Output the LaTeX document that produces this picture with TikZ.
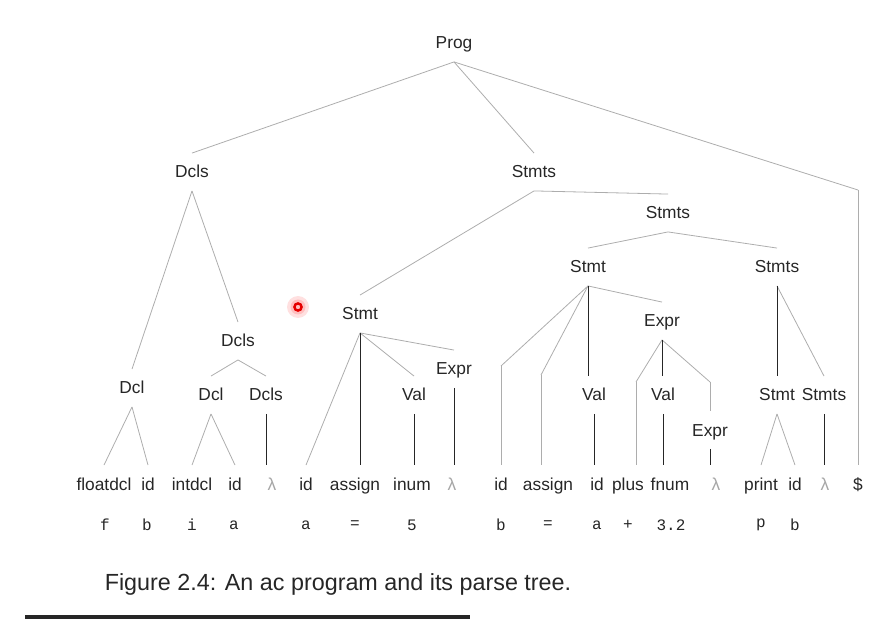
\documentclass[tikz,border=0pt]{standalone}
\usepackage{fontspec}
\setmainfont{Liberation Sans}
\setmonofont{Liberation Mono}
\usetikzlibrary{calc}

\tikzset{
  sym/.style={inner xsep=1pt, inner ysep=8pt, text height=10.5pt, text depth=1.5pt,
    text=black!85, font=\fontsize{13}{15}\selectfont},
  lam/.style={sym, text=black!35},
  val/.style={inner sep=1pt, text=black!85, font=\ttfamily\fontsize{12}{14}\selectfont},
  br/.style={draw=black!32, line width=0.6pt},
  vr/.style={draw=black!85, line width=0.6pt}
}

\begin{document}
\begin{tikzpicture}[x=0.75pt,y=0.75pt,yscale=-1,xscale=1]
\useasboundingbox (0,0) rectangle (895,630);

% Text Node: inner symbols
\node[sym] (prog) at (454,43) {Prog};
\node[sym] (dcls) at (192,172) {Dcls};
\node[sym] (stmts) at (534,172) {Stmts};
\node[sym] (stmtsb) at (668,213) {Stmts};
\node[sym] (stmtb) at (588,267) {Stmt};
\node[sym] (stmtsc) at (777,267) {Stmts};
\node[sym] (stmta) at (360,314) {Stmt};
\node[sym] (dclsb) at (238,341) {Dcls};
\node[sym] (expra) at (454,369) {Expr};
\node[sym] (exprb) at (662,321) {Expr};
\node[sym] (dcla) at (132,388) {Dcl};
\node[sym] (dclb) at (211,395) {Dcl};
\node[sym] (dclsc) at (266,395) {Dcls};
\node[sym] (vala) at (414,395) {Val};
\node[sym] (valb) at (594,395) {Val};
\node[sym] (valc) at (663,395) {Val};
\node[sym] (exprc) at (710,430) {Expr};
\node[sym] (stmtc) at (777,395) {Stmt};
\node[sym] (stmtsd) at (824,395) {Stmts};

% Text Node: leaves
\node[sym] (floatdcl) at (104,484) {floatdcl};
\node[sym] (ida) at (148,484) {id};
\node[sym] (intdcl) at (192,484) {intdcl};
\node[sym] (idb) at (235,484) {id};
\node[lam] (lama) at (272,484) {λ};
\node[sym] (idc) at (306,484) {id};
\node[sym] (asgna) at (355,484) {assign};
\node[sym] (inum) at (412,484) {inum};
\node[lam] (lamb) at (452,484) {λ};
\node[sym] (idd) at (501,484) {id};
\node[sym] (asgnb) at (548,484) {assign};
\node[sym] (ide) at (597,484) {id};
\node[sym] (plus) at (628,484) {plus};
\node[sym] (fnum) at (670,484) {fnum};
\node[lam] (lamc) at (716,484) {λ};
\node[sym] (print) at (761,484) {print};
\node[sym] (idf) at (795,484) {id};
\node[lam] (lamd) at (825,484) {λ};
\node[sym] (eof) at (858,484) {\$};

% Text Node: source text
\node[val] (vf) at (105,525) {f};
\node[val] (vb) at (147,525) {b};
\node[val] (vi) at (192,525) {i};
\node[val] (va) at (234,525) {a};
\node[val] (vaa) at (306,525) {a};
\node[val] (veq) at (355,525) {=};
\node[val] (vfive) at (412,525) {5};
\node[val] (vbb) at (501,525) {b};
\node[val] (veqb) at (548,525) {=};
\node[val] (vab) at (597,525) {a};
\node[val] (vplus) at (628,525) {+};
\node[val] (vnum) at (671,525) {3.2};
\node[val] (vp) at (761,525) {p};
\node[val] (vbc) at (795,525) {b};

%Straight Lines: slanted branches
\draw[br] (prog.south) -- (dcls.north);
\draw[br] (prog.south) -- (stmts.north);
\draw[br] (prog.south) -- (eof.north |- 0,190);
\draw[br] (dcls.south) -- (dcla.north);
\draw[br] (dcls.south) -- (dclsb.north);
\draw[br] (dclsb.south) -- (dclb.north);
\draw[br] (dclsb.south) -- (dclsc.north);
\draw[br] (dcla.south) -- (floatdcl.north);
\draw[br] (dcla.south) -- (ida.north);
\draw[br] (dclb.south) -- (intdcl.north);
\draw[br] (dclb.south) -- (idb.north);
\draw[br] (stmts.south) -- (stmta.north);
\draw[br] (stmts.south) -- (stmtsb.north);
\draw[br] (stmtsb.south) -- (stmtb.north);
\draw[br] (stmtsb.south) -- (stmtsc.north);
\draw[br] (stmta.south) -- (idc.north);
\draw[br] (stmta.south) -- (vala.north);
\draw[br] (stmta.south) -- (expra.north);
\draw[br] (stmtb.south) -- (idd.north |- 0,366);
\draw[br] (stmtb.south) -- (541,375);
\draw[br] (stmtb.south) -- (exprb.north);
\draw[br] (exprb.south) -- (636,382);
\draw[br] (exprb.south) -- (exprc.north |- 0,382);
\draw[br] (stmtsc.south) -- (stmtsd.north);
\draw[br] (stmtc.south) -- (print.north);
\draw[br] (stmtc.south) -- (idf.north);

%Straight Lines: vertical parts
\draw[br] (eof.north |- 0,190) -- (eof.north);
\draw[br] (idd.north |- 0,366) -- (idd.north);
\draw[br] (541,375) -- (541,0 |- asgnb.north);
\draw[br] (636,382) -- (636,0 |- plus.north);
\draw[br] (exprc.north |- 0,382) -- (exprc.north);
\draw[vr] (dclsc.south) -- (dclsc.south |- lama.north);
\draw[vr] (stmta.south) -- (stmta.south |- asgna.north);
\draw[vr] (vala.south) -- (vala.south |- inum.north);
\draw[vr] (expra.south) -- (expra.south |- lamb.north);
\draw[vr] (stmtb.south) -- (stmtb.south |- valb.north);
\draw[vr] (valb.south) -- (valb.south |- ide.north);
\draw[vr] (exprb.south) -- (exprb.south |- valc.north);
\draw[vr] (valc.south) -- (valc.south |- fnum.north);
\draw[vr] (exprc.south) -- (exprc.south |- lamc.north);
\draw[vr] (stmtsc.south) -- (stmtsc.south |- stmtc.north);
\draw[vr] (stmtsd.south) -- (stmtsd.south |- lamd.north);

% pointer mark
\fill[red!12] (298,307) circle (11);
\fill[red!25] (298,307) circle (7.5);
\draw[red!90!black, line width=1.8pt] (298,307) circle (3.6);

% caption and rule
\node[text=black!85, font=\fontsize{17.5}{20}\selectfont] (caption) at (338,584) {Figure 2.4: An ac program and its parse tree.};
\draw[black!85, line width=2.8pt] (25,617) -- (470,617);

\end{tikzpicture}
\end{document}
